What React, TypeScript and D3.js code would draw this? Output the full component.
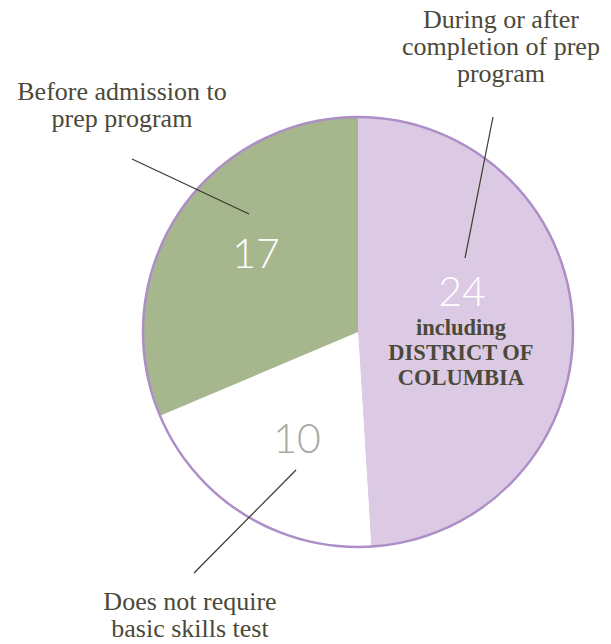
import React from "react";
import * as d3 from "d3";

const categories = ["During or after completion of prep program", "Does not require basic skills test", "Before admission to prep program"];
const labelValues = [24, 10, 17];
const sliceValues = [25, 10, 16];
const sliceColors = ["#dccae4", "#ffffff", "#a6b78e"];
const numberColors = ["#ffffff", "#a9a9a0", "#ffffff"];

const W = 611, H = 644;
const cx = 358, cy = 332, R = 215;
const textColor = "#4b4939";
const serif = "'Liberation Serif', 'DejaVu Serif', serif";
const thin = "Lato, 'Open Sans', sans-serif";

export default function App() {
  const pie = d3.pie<number>().sort(null).value((d) => d)(sliceValues);
  const arc = d3.arc<d3.PieArcDatum<number>>().innerRadius(0).outerRadius(R);
  return (
    <svg width={W} height={H} style={{ position: "absolute", left: 0, top: 0 }}>
      <g transform={`translate(${cx},${cy})`}>
        {pie.map((p, i) => (
          <path key={i} d={arc(p) || ""} fill={sliceColors[i]} />
        ))}
        <circle r={R} fill="none" stroke="#ad8ec6" strokeWidth={2.5} />
      </g>
      {/* leader lines */}
      <line x1={132} y1={159} x2={249} y2={214} stroke="#3a3a2c" strokeWidth={1.2} />
      <line x1={493} y1={117} x2={465} y2={258} stroke="#3a3a2c" strokeWidth={1.2} />
      <line x1={296} y1={470} x2={194} y2={573} stroke="#3a3a2c" strokeWidth={1.2} />
      {/* numbers */}
      <text x={462} y={306} textAnchor="middle" fontFamily={thin} fontWeight={300} fontSize={41} fill={numberColors[0]}>{labelValues[0]}</text>
      <text x={297} y={453} textAnchor="middle" fontFamily={thin} fontWeight={300} fontSize={41} fill={numberColors[1]}>{labelValues[1]}</text>
      <text x={256} y={268} textAnchor="middle" fontFamily={thin} fontWeight={300} fontSize={41} fill={numberColors[2]}>{labelValues[2]}</text>
      {/* DC note */}
      <g fontFamily={serif} fontWeight="bold" fontSize={22.5} fill={textColor} textAnchor="middle">
        <text x={461} y={335}>including</text>
        <text x={461} y={360}>DISTRICT OF</text>
        <text x={461} y={385}>COLUMBIA</text>
      </g>
      {/* category labels */}
      <g fontFamily={serif} fontSize={26} fill={textColor} textAnchor="middle">
        <text x={501} y={28}>During or after</text>
        <text x={501} y={55}>completion of prep</text>
        <text x={501} y={82}>program</text>
        <text x={122} y={100}>Before admission to</text>
        <text x={122} y={127}>prep program</text>
        <text x={190} y={610}>Does not require</text>
        <text x={190} y={637}>basic skills test</text>
      </g>
      <title>{categories.join(", ")}</title>
    </svg>
  );
}
